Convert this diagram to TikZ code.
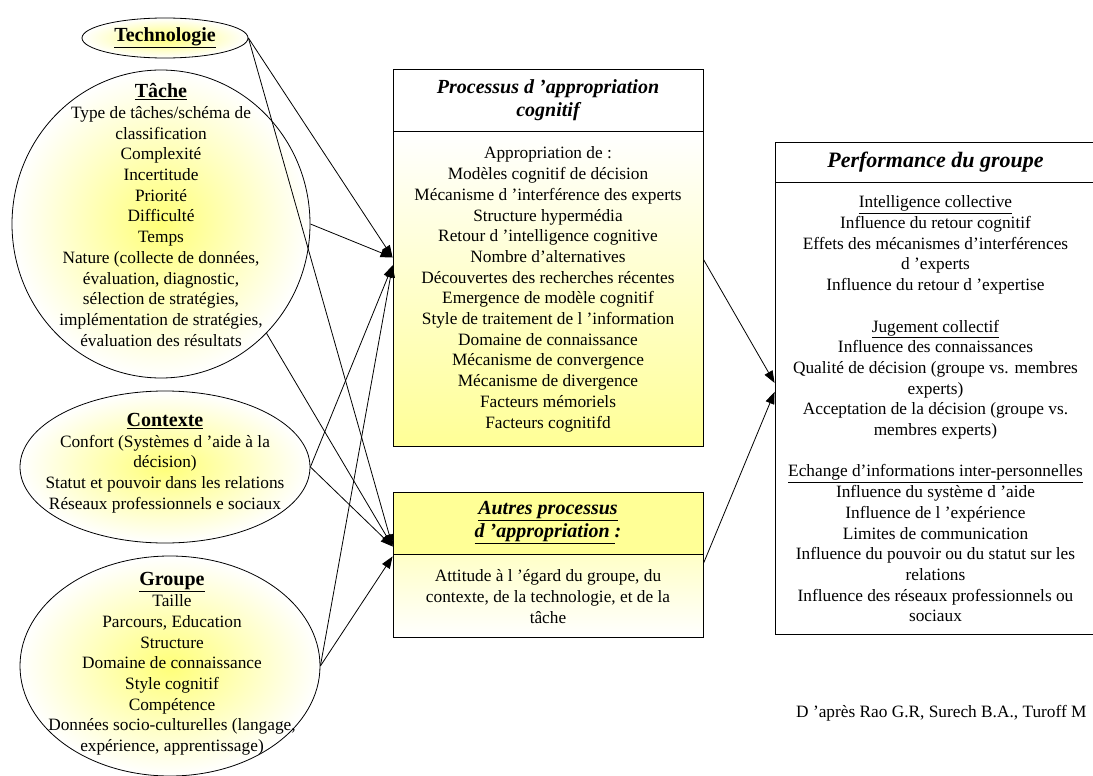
\documentclass[tikz,border=0pt]{standalone}
\usepackage{fontspec}
\setmainfont{Liberation Serif}
\usepackage{tikz}
\usetikzlibrary{positioning}
\usetikzlibrary{shapes.geometric,arrows.meta}
\definecolor{paleYellow}{RGB}{255,255,150}
\definecolor{ovalYellow}{RGB}{255,255,120}
\definecolor{lightYellow}{RGB}{255,255,200}
\newcommand{\bodyfont}{\fontsize{17.3}{20.7}\selectfont}
\newcommand{\headfont}{\fontsize{20}{23}\selectfont\bfseries}

\begin{document}
\begin{tikzpicture}[x=1pt,y=-1pt]
  \tikzstyle{oval}=[ellipse,draw,line width=0.8pt,inner sep=0,inner color=ovalYellow,outer color=white]
  \tikzstyle{ovaltext}=[inner sep=0,align=center,font=\bodyfont]
  \tikzstyle{boxhead}=[rectangle,draw,line width=0.9pt,minimum width=310pt,inner sep=0,align=center,font=\headfont\itshape]
  \tikzstyle{boxbody}=[rectangle,draw,line width=0.9pt,minimum width=310pt,inner sep=0,align=center,font=\bodyfont]
  \tikzset{
link/.style={-{Triangle[length=12pt,width=9pt]},line width=0.8pt}
}
  \useasboundingbox (0,0) rectangle (1093,776);
  % left side: the four factors
  \node[oval,minimum width=166pt,minimum height=40pt](techno) at (165,38){};
  \node[ovaltext](technoText) at (techno.center){{\headfont\underline{Technologie}}};
  \node[oval,minimum width=298pt,minimum height=308pt](tache) at (161,224){};
  \node[ovaltext](tacheText) at (161,215){{\headfont\underline{Tâche}}\\
  Type de tâches/schéma de\\ classification\\ Complexité\\ Incertitude\\ Priorité\\ Difficulté\\ Temps\\
  Nature (collecte de données,\\ évaluation, diagnostic,\\ sélection de stratégies,\\
  implémentation de stratégies,\\ évaluation des résultats};
  \node[oval,minimum width=290pt,minimum height=152pt](contexte) at (165,467){};
  \node[ovaltext](contexteText) at (165,463){{\headfont\underline{Contexte}}\\
  Confort (Systèmes d ’aide à la\\ décision)\\ Statut et pouvoir dans les relations\\ Réseaux professionnels e sociaux};
  \node[oval,minimum width=300pt,minimum height=220pt](groupe) at (170,666){};
  \node[ovaltext](groupeText) at (172,664){{\headfont\underline{Groupe}}\\
  Taille\\ Parcours, Education\\ Structure\\ Domaine de connaissance\\ Style cognitif\\ Compétence\\
  Données socio-culturelles (langage,\\ expérience, apprentissage)};
  % middle: appropriation
  \node[boxhead,minimum height=62pt,fill=white](procHead) at (548,100){Processus d ’appropriation\\ cognitif};
  \node[boxbody,minimum height=315pt,below=0pt of procHead,top color=white,bottom color=paleYellow](procBody){Appropriation de :\\
  Modèles cognitif de décision\\ Mécanisme d ’interférence des experts\\ Structure hypermédia\\
  Retour d ’intelligence cognitive\\ Nombre d’alternatives\\ Découvertes des recherches récentes\\
  Emergence de modèle cognitif\\ Style de traitement de l ’information\\ Domaine de connaissance\\
  Mécanisme de convergence\\ Mécanisme de divergence\\ Facteurs mémoriels\\ Facteurs cognitifd};
  \node[boxhead,minimum height=62pt,fill=paleYellow](autHead) at (548,523){\underline{Autres processus}\\ \underline{d ’appropriation }:};
  \node[boxbody,minimum height=83pt,below=0pt of autHead,top color=lightYellow,bottom color=white](autBody){Attitude à l ’égard du groupe, du\\
  contexte, de la technologie, et de la\\ tâche};
  % right: performance
  \node[boxhead,minimum width=321pt,minimum height=40pt,font=\fontsize{22}{26}\selectfont\bfseries\itshape](perfHead) at (935.5,162){Performance du groupe};
  \node[boxbody,minimum width=321pt,minimum height=452pt,below=0pt of perfHead](perfBody){\underline{Intelligence collective}\\
  Influence du retour cognitif\\ Effets des mécanismes d’interférences\\ d ’experts\\ Influence du retour d ’expertise\\[20.7pt]
  \underline{Jugement collectif}\\ Influence des connaissances\\ Qualité de décision (groupe vs. membres\\ experts)\\
  Acceptation de la décision (groupe vs.\\ membres experts)\\[20.7pt]
  \underline{Echange d’informations inter-personnelles}\\ Influence du système d ’aide\\ Influence de l ’expérience\\
  Limites de communication\\ Influence du pouvoir ou du statut sur les\\ relations\\
  Influence des réseaux professionnels ou\\ sociaux};
  \node[anchor=east,font=\bodyfont](source) at (1090,713){D ’après Rao G.R, Surech B.A., Turoff M};
  % connectors
  \draw[link] (techno.east) -- ([yshift=32pt]procBody.west);
  \draw[link] (tache.east) -- ([yshift=32pt]procBody.west);
  \draw[link] (contexte.east) -- ([yshift=24pt]procBody.west);
  \draw[link] (groupe.east) -- ([yshift=24pt]procBody.west);
  \draw[link] (techno.east) -- ([yshift=8pt]autHead.south west);
  \draw[link] (tache.-46) -- ([yshift=8pt]autHead.south west);
  \draw[link] (contexte.east) -- ([yshift=8pt]autHead.south west);
  \draw[link] (groupe.east) -- ([yshift=-2pt]autBody.north west);
  \draw[link] ([yshift=30pt]procBody.east) -- ([yshift=26pt]perfBody.west);
  \draw[link] ([yshift=-9pt]autBody.north east) -- ([yshift=17pt]perfBody.west);
\end{tikzpicture}
\end{document}
